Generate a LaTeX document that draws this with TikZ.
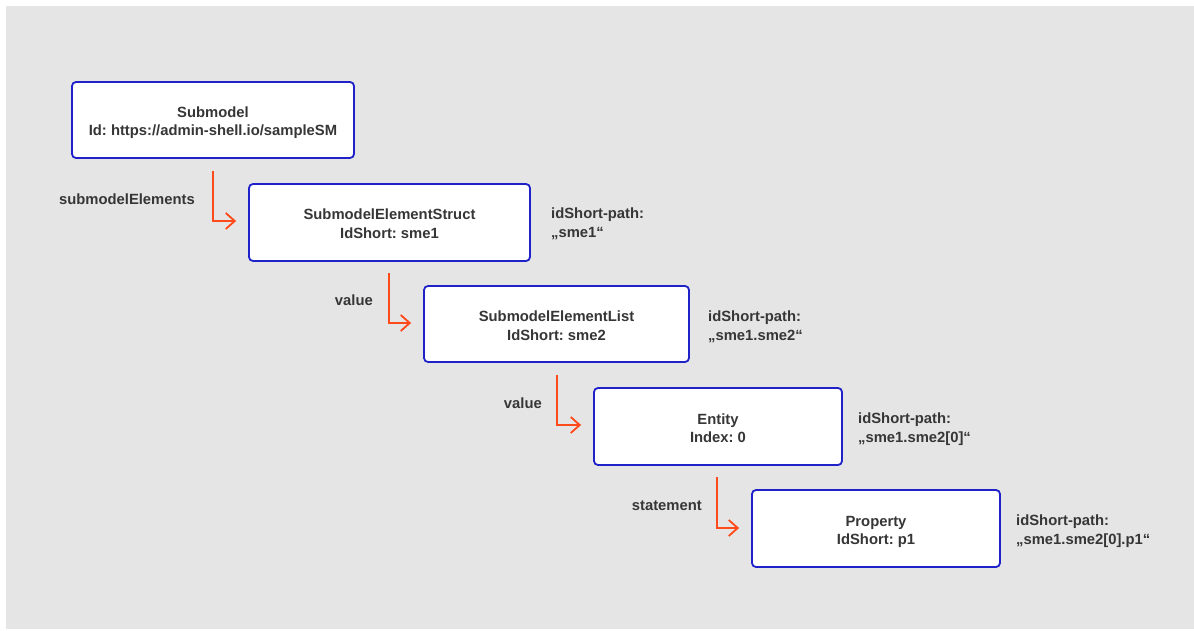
\documentclass[tikz,border=0pt]{standalone}
\usepackage{fontspec}
\setmainfont{Liberation Sans}
\usetikzlibrary{arrows.meta}
\definecolor{bg}{HTML}{E5E5E5}
\definecolor{boxblue}{HTML}{1E22C8}
\definecolor{arr}{HTML}{FF4A1C}
\definecolor{txt}{HTML}{363636}
\frenchspacing
\tikzset{
  box/.style={draw=boxblue, line width=1.8pt, fill=white, rounded corners=4pt,
    align=center, font=\frenchspacing\bfseries\fontsize{14.8}{18.5}\selectfont, text=txt, inner sep=0pt,
    text height=35pt, text depth=3pt},
  lbl/.style={font=\frenchspacing\bfseries\fontsize{14.8}{18}\selectfont, text=txt, inner sep=0pt},
  pth/.style={font=\frenchspacing\bfseries\fontsize{14.8}{19}\selectfont, text=txt, inner sep=0pt, align=left, anchor=west},
  link/.style={draw=arr, line width=1.8pt, -{Straight Barb[length=9pt,width=16pt,line width=1.8pt]}}
}
\begin{document}
\begin{tikzpicture}[x=1pt,y=-1pt]
\useasboundingbox (0,0) rectangle (1194,631);
\fill[bg] (6,6) rectangle (1194,629);
\node[box, minimum width=282pt, minimum height=76pt] (sm) at (213,120) {Submodel\\Id: https://admin-shell.io/sampleSM};
\node[box, minimum width=281pt, minimum height=77pt] (s1) at (389.5,222.5) {SubmodelElementStruct\\IdShort: sme1};
\node[box, minimum width=265pt, minimum height=76pt] (s2) at (556.5,324) {SubmodelElementList\\IdShort: sme2};
\node[box, minimum width=248pt, minimum height=77pt] (en) at (718,426.5) {Entity\\Index: 0};
\node[box, minimum width=248pt, minimum height=77pt] (pr) at (876,528.5) {Property\\IdShort: p1};

\coordinate (a1) at (213,171);
\coordinate (a2) at (389,273);
\coordinate (a3) at (557,375);
\coordinate (a4) at (717,477);
\draw[link] (a1) |- ([xshift=-12pt]s1.west |- 0,221);
\draw[link] (a2) |- ([xshift=-12pt]s2.west |- 0,323);
\draw[link] (a3) |- ([xshift=-12pt]en.west |- 0,425);
\draw[link] (a4) |- ([xshift=-12pt]pr.west |- 0,528);

\node[lbl, anchor=east] (l1) at (195,199) {submodelElements};
\node[lbl, anchor=east] (l2) at (373,300) {value};
\node[lbl, anchor=east] (l3) at (542,403) {value};
\node[lbl, anchor=east] (l4) at (702,506) {statement};

\node[pth] (p1) at (551,224) {idShort-path:\\„sme1“};
\node[pth] (p2) at (708,327) {idShort-path:\\„sme1.sme2“};
\node[pth] (p3) at (858,429) {idShort-path:\\„sme1.sme2[0]“};
\node[pth] (p4) at (1016,531) {idShort-path:\\„sme1.sme2[0].p1“};
\end{tikzpicture}
\end{document}
